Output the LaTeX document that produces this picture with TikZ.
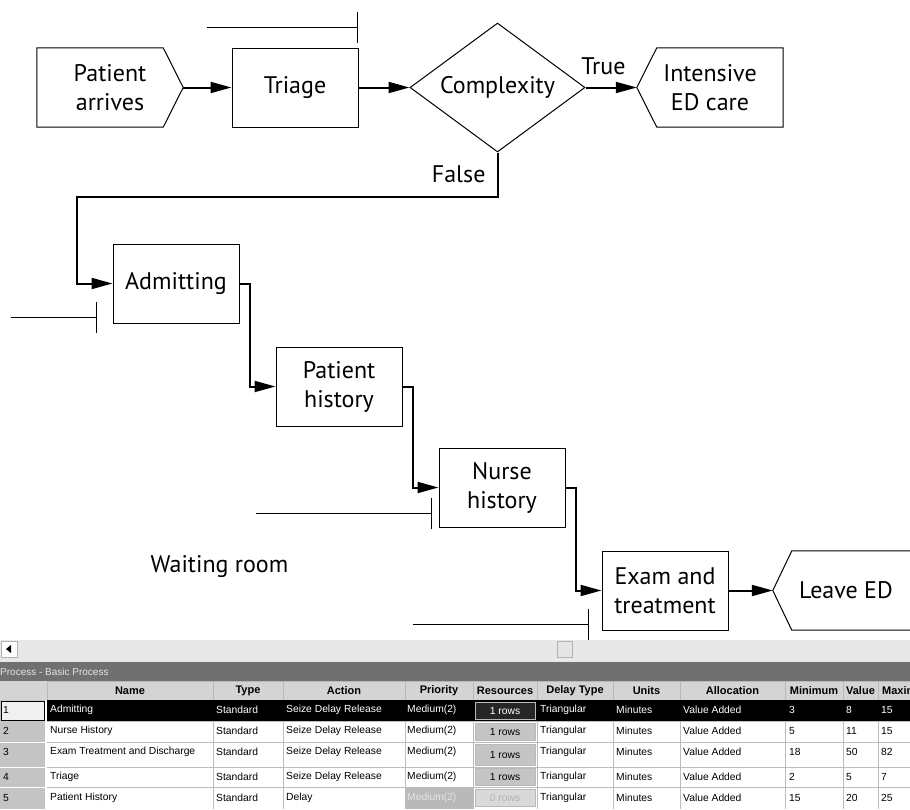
\documentclass[tikz,border=0pt]{standalone}
\usepackage{fontspec}
\setmainfont{PT Sans}
\newfontfamily\gridfont{Liberation Sans}
\usetikzlibrary{arrows.meta,shapes.geometric}
\definecolor{LineClr}{gray}{0.74}
\definecolor{HeadClr}{gray}{0.83}
\definecolor{TitleClr}{gray}{0.44}
\definecolor{ScrollClr}{gray}{0.91}
\definecolor{BtnClr}{gray}{0.77}

\begin{document}
\begin{tikzpicture}[x=1pt,y=-1pt,
  box/.style={draw,line width=1pt,minimum width=126pt,minimum height=79pt,inner sep=0pt,align=center,font=\fontsize{24}{29}\selectfont},
  endbox/.style={minimum width=146pt,minimum height=79pt,inner sep=0pt,align=center,font=\fontsize{24}{29}\selectfont},
  decide/.style={diamond,aspect=1.36,draw,line width=1pt,minimum width=175pt,minimum height=129pt,inner sep=0pt,font=\fontsize{24}{29}\selectfont},
  flow/.style={line width=2pt,-{Triangle[length=21pt,width=11pt]}},
  queue/.style={line width=1pt,-{Bar[width=31pt]}},
  lbl/.style={inner sep=0pt,font=\fontsize{24}{29}\selectfont},
  cell/.style={anchor=west,inner sep=0pt,font=\gridfont\fontsize{10.3}{12}\selectfont},
  head/.style={inner sep=0pt,font=\gridfont\bfseries\fontsize{11}{13}\selectfont},
  resbtn/.style={draw=gray!55,fill=BtnClr,minimum width=60pt,minimum height=17pt,inner sep=0pt,font=\gridfont\fontsize{10.3}{12}\selectfont}]
\useasboundingbox (0,0) rectangle (910,809);
\clip (0,0) rectangle (910,809);

\node[endbox] (arrive) at (110,87.5) {Patient\\arrives};
\node[box] (triage) at (295,87.5) {Triage};
\node[decide] (cplx) at (497.5,87.5) {Complexity};
\node[endbox] (icu) at (710,87.5) {Intensive\\ED care};
\node[box] (admit) at (176,283.5) {Admitting};
\node[box] (phist) at (339,386.5) {Patient\\history};
\node[box] (nhist) at (502,487.5) {Nurse\\history};
\node[box] (exam) at (665,590.5) {Exam and\\treatment};
\node[endbox] (leave) at (846,590.5) {Leave ED};
\node[lbl,anchor=base] (wait) at (219.5,572) {Waiting room};

\draw[line width=1pt] (arrive.north west) -- ([xshift=-20pt]arrive.north east) -- (arrive.east) -- ([xshift=-20pt]arrive.south east) -- (arrive.south west) -- cycle;
\draw[line width=1pt] (icu.west) -- ([xshift=20pt]icu.north west) -- (icu.north east) -- (icu.south east) -- ([xshift=20pt]icu.south west) -- cycle;
\draw[line width=1pt] (leave.west) -- ([xshift=19pt]leave.north west) -- (leave.north east) -- (leave.south east) -- ([xshift=19pt]leave.south west) -- cycle;

\draw[flow] (arrive.east) -- (triage.west);
\draw[flow] (triage.east) -- (cplx.west);
\draw[flow] (cplx.east) -- node[lbl,pos=.35,above=12pt] (true) {True} (icu.west);
\draw[flow] (cplx.south) -- node[lbl,left=11pt] (false) {False} ++(0,44) -| ([xshift=-36pt]admit.west) -- (admit.west);
\draw[flow] (admit.east) -- ++(10,0) |- (phist.west);
\draw[flow] (phist.east) -- ++(10,0) |- (nhist.west);
\draw[flow] (nhist.east) -- ++(10,0) |- (exam.west);
\draw[flow] (exam.east) -- (leave.west);

% queues
\coordinate (qtri) at (207,27);
\coordinate (qadm) at (11,317);
\coordinate (qnur) at (256,513);
\coordinate (qexm) at (413,624.5);
\draw[queue] (qtri) -- ++(151,0);
\draw[queue] (qadm) -- ++(86,0);
\draw[queue] (qnur) -- ++(176,0);
\draw[queue] (qexm) -- ++(176,0);

% spreadsheet
\fill[ScrollClr] (0,640) rectangle (910,662);
\draw[gray!60,fill=white] (1,641) rectangle (17,657);
\fill (6,649) -- (11,645) -- (11,653) -- cycle;
\draw[gray!60,fill=gray!20] (557,641) rectangle (572,657);
\fill[TitleClr] (0,662) rectangle (910,681);
\node[cell,text=gray!20,font=\gridfont\fontsize{10}{12}\selectfont] (title) at (0,671.5) {Process - Basic Process};

\fill[HeadClr] (0,681) rectangle (910,700);
\foreach \xa/\xb/\txt [count=\i] in {47/213/Name,213/283/Type,283/405/Action,405/473/Priority,473/537/Resources,537/613/Delay Type,613/680/Units,680/785/Allocation,785/843/Minimum,843/878/Value,878/937/Maximum}
  {\draw[gray!55] (\xa,681) rectangle (\xb,700);
   \node[head] (hd\i) at ({(\xa+\xb)/2},690.5) {\txt};}

\fill[white] (47,700) rectangle (910,809);
\fill[BtnClr] (0,700) rectangle (45,809);
\fill[black] (47,700) rectangle (910,721);
\draw[black,fill=gray!12] (1,701) rectangle (44,720);
\fill[gray!55] (405,787) rectangle (473,809);
\foreach \yy in {742,767,787}
  \draw[white] (0,\yy) -- (45,\yy);
\foreach \yy in {721,742,767,787}
  \draw[LineClr] (47,\yy) -- (910,\yy);
\foreach \xx in {213,283,405,473,537,613,680,785,843,878}
  \draw[LineClr] (\xx,721) -- (\xx,809);

\foreach \r/\y/\tc/\nm/\act/\pc/\mn/\va/\mx in {
  1/710/white/Admitting/Seize Delay Release/white/3/8/15,
  2/731/black/Nurse History/Seize Delay Release/black/5/11/15,
  3/752/black/Exam Treatment and Discharge/Seize Delay Release/black/18/50/82,
  4/777/black/Triage/Seize Delay Release/black/2/5/7,
  5/798/black/Patient History/Delay/gray!20/15/20/25}
  {\node[cell] (no\r) at (3,\y) {\r};
   \node[cell,text=\tc] (nm\r) at (50,\y) {\nm};
   \node[cell,text=\tc] (ty\r) at (216,\y) {Standard};
   \node[cell,text=\tc] (ac\r) at (286,\y) {\act};
   \node[cell,text=\pc] (pr\r) at (407,\y) {Medium(2)};
   \node[cell,text=\tc] (dt\r) at (540,\y) {Triangular};
   \node[cell,text=\tc] (un\r) at (616,\y) {Minutes};
   \node[cell,text=\tc] (al\r) at (683,\y) {Value Added};
   \node[cell,text=\tc] (mn\r) at (789,\y) {\mn};
   \node[cell,text=\tc] (va\r) at (846,\y) {\va};
   \node[cell,text=\tc] (mx\r) at (881,\y) {\mx};}

\node[resbtn,fill=black!85,text=white] (rb1) at (505,710.5) {1 rows};
\node[resbtn] (rb2) at (505,731.5) {1 rows};
\node[resbtn,minimum height=21pt] (rb3) at (505,755) {1 rows};
\node[resbtn] (rb4) at (505,777) {1 rows};
\node[resbtn,fill=gray!30,text=gray!60] (rb5) at (505,798) {0 rows};
\end{tikzpicture}
\end{document}
